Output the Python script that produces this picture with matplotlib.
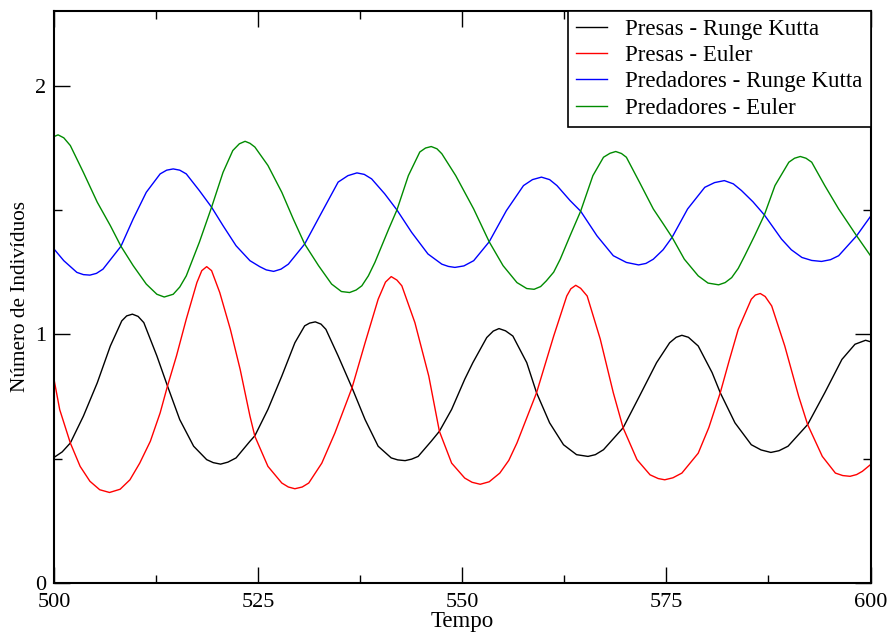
import matplotlib
matplotlib.use("Agg")
import matplotlib.pyplot as plt

plt.rcParams['font.family'] = ['Liberation Serif', 'DejaVu Serif']

# Presas - Runge Kutta (black)
t_prk = [500.0, 501.0, 502.0, 503.6, 505.3, 506.9, 508.3, 508.9, 509.6, 510.3, 511.0, 512.6, 513.9,
         515.4, 517.1, 518.7, 519.5, 520.4, 521.3, 522.3, 524.0, 524.6, 526.2, 527.9, 529.5, 530.7,
         531.3, 532.0, 532.7, 533.3, 534.8, 536.5, 538.1, 539.7, 541.3, 542.1, 543.0, 543.8, 544.6,
         546.2, 547.2, 548.7, 550.3, 551.3, 553.0, 553.8, 554.5, 555.3, 556.2, 557.9, 559.1, 560.7,
         562.4, 564.0, 565.4, 566.3, 567.3, 569.7, 571.7, 573.8, 575.4, 576.2, 576.9, 577.7, 578.9,
         580.6, 581.6, 583.4, 585.4, 586.6, 587.8, 588.8, 589.9, 592.3, 594.4, 596.5, 598.1, 599.4,
         600.0]
v_prk = [0.505, 0.527, 0.563, 0.671, 0.805, 0.953, 1.054, 1.074, 1.081, 1.072, 1.047, 0.913, 0.792,
         0.657, 0.550, 0.496, 0.484, 0.478, 0.486, 0.503, 0.570, 0.592, 0.698, 0.832, 0.966, 1.034,
         1.045, 1.050, 1.041, 1.020, 0.913, 0.785, 0.657, 0.550, 0.503, 0.495, 0.492, 0.498, 0.509,
         0.570, 0.610, 0.698, 0.819, 0.886, 0.987, 1.013, 1.023, 1.014, 0.993, 0.886, 0.765, 0.644,
         0.556, 0.516, 0.509, 0.516, 0.536, 0.624, 0.751, 0.886, 0.966, 0.988, 0.996, 0.988, 0.953,
         0.846, 0.765, 0.644, 0.556, 0.535, 0.525, 0.532, 0.550, 0.637, 0.765, 0.899, 0.960, 0.976,
         0.970]

# Presas - Euler (red)
t_pe = [500.0, 500.7, 502.0, 503.2, 504.4, 505.6, 506.8, 508.1, 509.3, 510.5, 511.8, 513.0, 513.9,
        515.0, 516.2, 517.5, 518.1, 518.7, 519.3, 520.3, 521.6, 522.8, 524.0, 524.6, 526.2, 527.9,
        528.7, 529.5, 530.4, 531.2, 532.8, 534.4, 536.5, 538.1, 539.7, 540.6, 541.3, 542.0, 542.6,
        544.2, 545.9, 547.2, 548.7, 550.3, 551.2, 552.2, 553.3, 554.6, 555.7, 556.7, 559.1, 561.2,
        562.8, 563.3, 563.9, 564.5, 565.3, 566.9, 568.5, 569.7, 571.4, 573.0, 574.0, 574.8, 575.8,
        576.9, 578.9, 580.2, 581.6, 582.7, 583.8, 585.4, 585.9, 586.5, 587.1, 587.9, 589.5, 591.2,
        592.3, 594.1, 595.7, 596.6, 597.5, 598.3, 599.0, 600.0]
v_pe = [0.819, 0.697, 0.563, 0.469, 0.409, 0.375, 0.364, 0.377, 0.415, 0.482, 0.570, 0.684, 0.792,
        0.913, 1.061, 1.208, 1.256, 1.272, 1.256, 1.168, 1.020, 0.859, 0.671, 0.590, 0.469, 0.402,
        0.386, 0.379, 0.386, 0.402, 0.482, 0.603, 0.785, 0.966, 1.141, 1.210, 1.232, 1.218, 1.195,
        1.047, 0.832, 0.610, 0.482, 0.422, 0.405, 0.397, 0.407, 0.442, 0.493, 0.563, 0.765, 0.993,
        1.154, 1.183, 1.197, 1.185, 1.154, 0.981, 0.765, 0.624, 0.496, 0.435, 0.420, 0.415, 0.423,
        0.442, 0.522, 0.625, 0.765, 0.895, 1.020, 1.141, 1.158, 1.164, 1.152, 1.114, 0.953, 0.751,
        0.637, 0.509, 0.442, 0.432, 0.429, 0.436, 0.449, 0.476]

# Predadores - Runge Kutta (blue)
t_drk = [500.0, 501.2, 502.8, 503.6, 504.4, 505.2, 506.0, 508.2, 509.7, 511.3, 513.0, 513.8, 514.6,
         515.4, 516.2, 517.8, 519.3, 520.7, 522.3, 524.0, 525.2, 526.0, 526.9, 527.8, 528.7, 530.7,
         532.8, 534.8, 536.0, 537.1, 538.0, 538.9, 540.5, 542.0, 543.8, 545.8, 547.5, 548.3, 549.1,
         550.2, 551.4, 553.3, 555.4, 557.5, 558.6, 559.7, 560.7, 561.6, 563.2, 564.5, 566.5, 568.5,
         570.1, 571.6, 572.5, 573.4, 574.6, 575.7, 577.6, 579.7, 580.9, 582.1, 583.2, 584.2, 585.6,
         587.0, 589.1, 590.3, 591.6, 592.8, 594.0, 595.1, 596.1, 598.3, 600.0]
v_drk = [1.343, 1.296, 1.249, 1.240, 1.238, 1.245, 1.262, 1.354, 1.464, 1.571, 1.645, 1.660, 1.665,
         1.660, 1.645, 1.578, 1.511, 1.437, 1.356, 1.296, 1.272, 1.259, 1.253, 1.262, 1.282, 1.363,
         1.491, 1.612, 1.638, 1.649, 1.643, 1.625, 1.565, 1.500, 1.410, 1.323, 1.282, 1.273, 1.269,
         1.275, 1.296, 1.372, 1.497, 1.598, 1.622, 1.632, 1.622, 1.598, 1.538, 1.495, 1.396, 1.316,
         1.289, 1.279, 1.285, 1.302, 1.340, 1.390, 1.504, 1.591, 1.610, 1.618, 1.605, 1.578, 1.533,
         1.480, 1.383, 1.340, 1.309, 1.297, 1.293, 1.300, 1.316, 1.396, 1.474]

# Predadores - Euler (green)
t_de = [500.0, 500.5, 501.2, 502.0, 503.6, 505.3, 506.9, 508.2, 509.7, 511.3, 512.6, 513.5, 514.6,
        515.4, 516.2, 517.8, 519.3, 520.7, 521.9, 522.7, 523.4, 524.0, 524.6, 526.2, 527.9, 529.3,
        530.7, 532.4, 534.0, 535.2, 536.2, 537.0, 537.7, 538.5, 539.3, 541.0, 542.0, 543.4, 544.8,
        545.5, 546.2, 546.9, 547.5, 549.2, 551.4, 553.3, 555.0, 556.7, 557.9, 558.8, 559.6, 560.3,
        561.2, 562.0, 563.2, 564.5, 566.0, 567.3, 568.1, 568.8, 569.5, 570.1, 571.7, 573.4, 574.6,
        575.7, 577.2, 578.9, 580.1, 581.4, 582.2, 583.0, 583.8, 584.6, 585.8, 587.0, 588.3, 590.0,
        590.7, 591.4, 592.1, 592.8, 594.4, 596.1, 598.3, 600.0]
v_de = [1.795, 1.802, 1.790, 1.759, 1.651, 1.531, 1.437, 1.354, 1.276, 1.202, 1.161, 1.150, 1.161,
        1.190, 1.235, 1.370, 1.511, 1.651, 1.739, 1.766, 1.776, 1.768, 1.753, 1.679, 1.571, 1.464,
        1.363, 1.276, 1.202, 1.172, 1.168, 1.178, 1.195, 1.235, 1.289, 1.424, 1.500, 1.638, 1.733,
        1.749, 1.755, 1.746, 1.726, 1.638, 1.504, 1.372, 1.276, 1.208, 1.184, 1.181, 1.192, 1.215,
        1.250, 1.302, 1.396, 1.495, 1.638, 1.712, 1.728, 1.735, 1.727, 1.712, 1.612, 1.504, 1.445,
        1.390, 1.302, 1.235, 1.206, 1.199, 1.208, 1.228, 1.265, 1.316, 1.396, 1.480, 1.598, 1.692,
        1.708, 1.715, 1.708, 1.692, 1.598, 1.504, 1.396, 1.316]

fig = plt.figure(figsize=(8.91, 6.34), dpi=100)
ax = fig.add_axes([54 / 891, 1 - 583 / 634, (870.5 - 54) / 891, (583 - 11) / 634])

ax.plot(t_prk, v_prk, color='black', lw=1.0, label='Presas - Runge Kutta')
ax.plot(t_pe, v_pe, color='#ff0000', lw=1.0, label='Presas - Euler')
ax.plot(t_drk, v_drk, color='#0000ff', lw=1.0, label='Predadores - Runge Kutta')
ax.plot(t_de, v_de, color='#008b00', lw=1.0, label='Predadores - Euler')

ax.set_xlim(500, 600)
ax.set_ylim(0, 2.3)
ax.set_xticks([500, 525, 550, 575, 600])
ax.set_xticks([512.5, 537.5, 562.5, 587.5], minor=True)
ax.set_yticks([0, 1, 2])
ax.set_yticks([0.5, 1.5], minor=True)
ax.tick_params(which='both', direction='in', top=True, right=True, width=1.0, labelsize=16)
ax.tick_params(which='major', length=11.5)
ax.tick_params(axis='x', which='major', pad=7.5)
ax.tick_params(axis='y', which='major', pad=5.5)
ax.tick_params(which='minor', length=5.8)
for s in ax.spines.values():
    s.set_linewidth(1.5)

ax.set_xlabel('Tempo', fontsize=16.5, labelpad=-1)
ax.set_ylabel('Número de Indivíduos', fontsize=15.3, labelpad=4)

leg = ax.legend(loc='upper right', borderaxespad=0, fancybox=False, framealpha=1,
                edgecolor='black', fontsize=16.5, handlelength=1.35, handletextpad=0.8,
                labelspacing=0.23, borderpad=0.34)
leg.get_frame().set_linewidth(1.2)

fig.savefig('out.png', dpi=100)
